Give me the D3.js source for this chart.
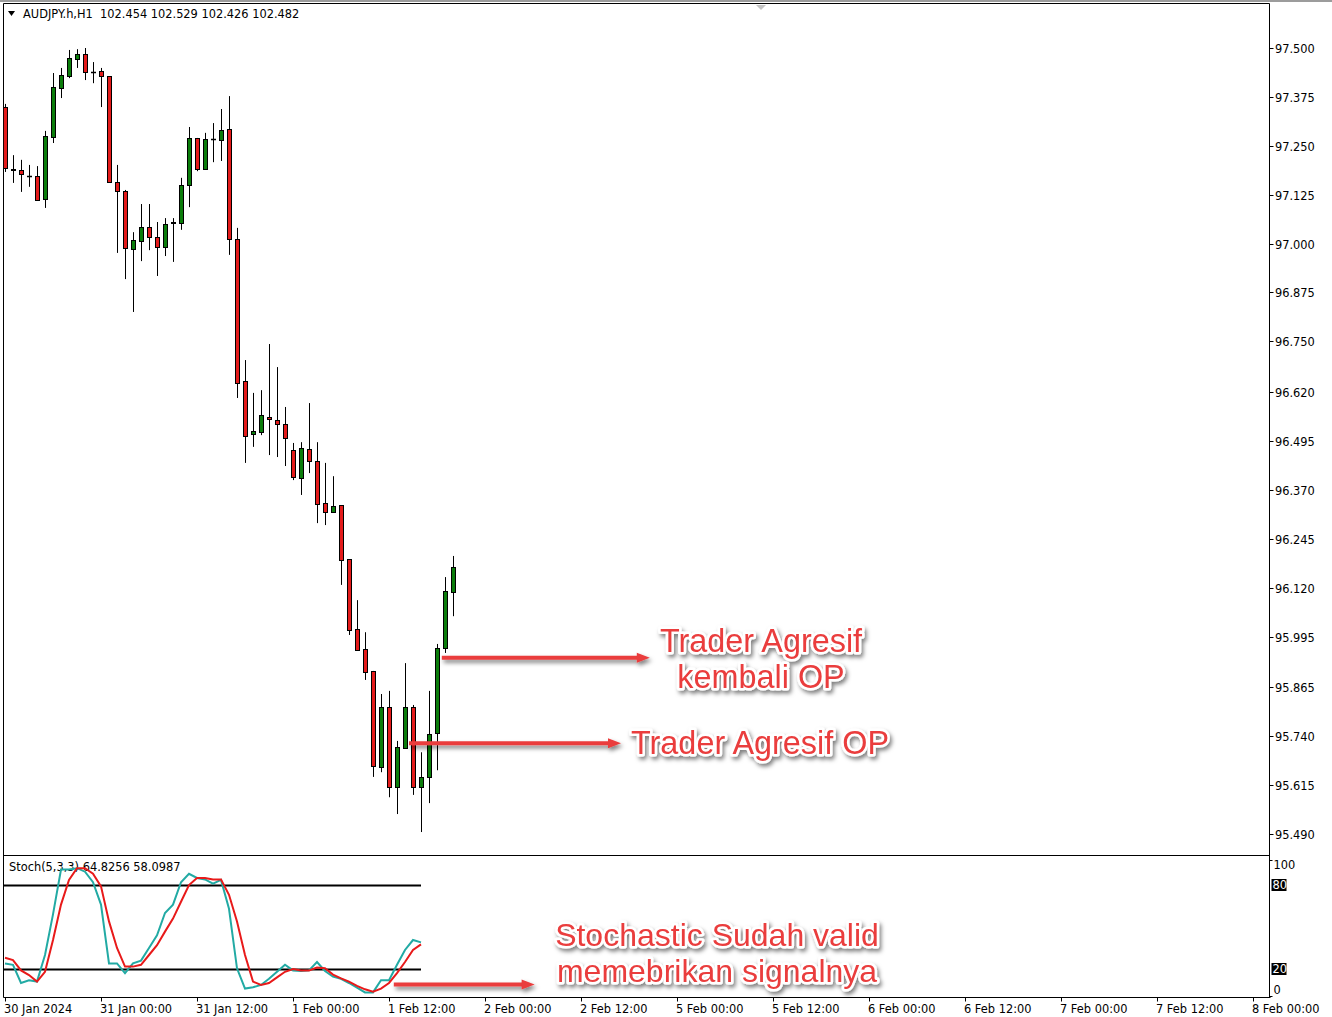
<!DOCTYPE html>
<html>
<head>
<meta charset="utf-8">
<script src="https://cdn.jsdelivr.net/npm/d3@7/dist/d3.min.js"></script>
<style>
  html, body { margin: 0; padding: 0; background: #ffffff; }
  svg { display: block; }
</style>
</head>
<body>
<svg id="chart" width="1332" height="1017"></svg>
<script>
// ---------------- DATA ----------------
const symbolTitle = "AUDJPY.h,H1  102.454 102.529 102.426 102.482";
const stochTitle = "Stoch(5,3,3) 64.8256 58.0987";

const openP = [97.349, 97.188, 97.188, 97.173, 97.173, 97.114, 97.272, 97.398, 97.428, 97.472, 97.485, 97.439, 97.441, 97.428, 97.157, 97.134, 96.986, 97.006, 97.042, 97.017, 96.991, 97.052, 97.052, 97.150, 97.270, 97.191, 97.267, 97.265, 97.293, 97.012, 96.648, 96.513, 96.518, 96.556, 96.549, 96.538, 96.472, 96.400, 96.474, 96.444, 96.336, 96.313, 96.331, 96.193, 96.014, 95.963, 95.907, 95.661, 95.815, 95.610, 95.710, 95.815, 95.610, 95.636, 95.748, 95.965, 96.109];
const highP = [97.357, 97.226, 97.214, 97.201, 97.198, 97.288, 97.436, 97.449, 97.495, 97.497, 97.500, 97.464, 97.449, 97.428, 97.201, 97.137, 97.029, 97.101, 97.101, 97.055, 97.065, 97.065, 97.168, 97.298, 97.270, 97.283, 97.308, 97.344, 97.377, 97.040, 96.702, 96.618, 96.625, 96.743, 96.684, 96.582, 96.490, 96.492, 96.592, 96.492, 96.439, 96.405, 96.331, 96.193, 96.088, 96.006, 95.907, 95.848, 95.856, 95.728, 95.927, 95.820, 95.699, 95.856, 95.976, 96.147, 96.201];
const lowP = [97.183, 97.155, 97.132, 97.145, 97.109, 97.091, 97.257, 97.372, 97.423, 97.449, 97.418, 97.410, 97.349, 97.157, 96.976, 96.909, 96.825, 96.955, 96.983, 96.917, 96.968, 96.953, 97.035, 97.093, 97.185, 97.191, 97.208, 97.211, 96.971, 96.605, 96.439, 96.480, 96.510, 96.459, 96.454, 96.431, 96.395, 96.357, 96.413, 96.285, 96.280, 96.311, 96.127, 95.999, 95.958, 95.884, 95.636, 95.648, 95.584, 95.541, 95.710, 95.590, 95.495, 95.569, 95.653, 95.953, 96.047];
const closeP = [97.193, 97.191, 97.178, 97.173, 97.111, 97.275, 97.400, 97.431, 97.474, 97.485, 97.439, 97.439, 97.428, 97.157, 97.134, 96.988, 97.009, 97.042, 97.017, 96.991, 97.050, 97.055, 97.150, 97.270, 97.191, 97.267, 97.267, 97.290, 97.012, 96.643, 96.508, 96.520, 96.561, 96.551, 96.538, 96.503, 96.403, 96.477, 96.444, 96.334, 96.313, 96.329, 96.191, 96.011, 95.960, 95.904, 95.664, 95.815, 95.610, 95.712, 95.815, 95.610, 95.636, 95.746, 95.965, 96.111, 96.173];

// Stochastic %K (main, teal) and %D (signal, red)
const stochK = [24, 23, 10, 12, 11, 30, 59, 91, 91, 92, 89.5, 82, 66, 24, 24, 17, 24, 26, 35, 44, 60, 66, 82, 88, 85, 84, 81, 83.6, 63, 20.5, 6, 7, 8.6, 13, 18, 23, 19, 18.6, 19, 25, 18.6, 14.5, 13, 10, 6.7, 3.3, 3.3, 12, 12, 23, 33.6, 40.7, 39];
const stochD = [28, 26.4, 19, 15.7, 11, 18, 40.7, 66, 83.6, 92, 92, 88, 79, 54, 35, 21.7, 21.7, 23, 30, 37, 46.7, 56, 68, 80, 85, 85, 84, 84, 73, 54, 30, 11, 8.6, 10, 14, 18, 20, 19, 19, 21, 20.5, 16, 13.3, 11, 8, 5.5, 3.8, 6, 10, 17, 25, 33.6, 37.6];
const stochLevels = [80, 20];

const priceTickLabels = ["97.500", "97.375", "97.250", "97.125", "97.000", "96.875", "96.750", "96.620", "96.495", "96.370", "96.245", "96.120", "95.995", "95.865", "95.740", "95.615", "95.490"];
const stochTickLabels = ["100", "80", "20", "0"];
const timeTickLabels = ["30 Jan 2024", "31 Jan 00:00", "31 Jan 12:00", "1 Feb 00:00", "1 Feb 12:00", "2 Feb 00:00", "2 Feb 12:00", "5 Feb 00:00", "5 Feb 12:00", "6 Feb 00:00", "6 Feb 12:00", "7 Feb 00:00", "7 Feb 12:00", "8 Feb 00:00"];
const barsPerTimeTick = 12;

const annotations = [
  { lines: ["Trader Agresif", "kembali OP"], barFrom: 54.6, barTo: 80.6, price: 95.941 },
  { lines: ["Trader Agresif OP"], barFrom: 50.5, barTo: 77, price: 95.722 }
];
const stochAnnotation = { lines: ["Stochastic Sudah valid", "memebrikan signalnya"], barFrom: 48.6, barTo: 66.2, value: 9 };

(function draw() {
// ---------------- LAYOUT ----------------
const W = 1332;
const pL = 3.5, pR = 1269.5, pT = 3.5, mainBottom = 855.5, stochTop = 857, stochBottom = 997.5;
const fontAxis = "'DejaVu Sans', Verdana, sans-serif";
const fs = 11.4;
const bull = "#0b7d0b", bear = "#e41b1b", teal = "#22aaa4", sigRed = "#e81a1a";
const annotRed = "#ea3c3c";

const svg = d3.select("#chart");

const defs = svg.append("defs");
const f = defs.append("filter").attr("id", "shadow").attr("x", "-10%").attr("y", "-40%").attr("width", "130%").attr("height", "200%");
f.append("feDropShadow").attr("dx", 2).attr("dy", 3).attr("stdDeviation", 2).attr("flood-color", "#000").attr("flood-opacity", 0.5);
defs.append("clipPath").attr("id", "clipMain").append("rect").attr("x", pL).attr("y", pT).attr("width", pR - pL).attr("height", mainBottom - pT);
defs.append("clipPath").attr("id", "clipStoch").append("rect").attr("x", pL).attr("y", stochTop).attr("width", pR - pL).attr("height", stochBottom - stochTop);

// Scales
const x = d3.scaleLinear().domain([0, 156]).range([5, 1253]);
const y = d3.scaleLinear().domain([95.49, 97.5]).range([834, 48]);
const ys = d3.scaleLinear().domain([0, 100]).range([997, 857]);
const px = i => Math.round(x(i)) + 0.5;

// Frame
svg.append("rect").attr("x", 0).attr("y", 0).attr("width", W).attr("height", 2).attr("fill", "#9c9c9c");
const frame = svg.append("g").attr("stroke", "#000").attr("stroke-width", 1).attr("fill", "none");
frame.append("line").attr("x1", pL).attr("x2", pR).attr("y1", pT).attr("y2", pT);
frame.append("line").attr("x1", pL).attr("x2", pL).attr("y1", pT).attr("y2", stochBottom);
frame.append("line").attr("x1", pR).attr("x2", pR).attr("y1", pT).attr("y2", stochBottom);
frame.append("line").attr("x1", pL).attr("x2", pR).attr("y1", mainBottom).attr("y2", mainBottom);
frame.append("line").attr("x1", pL).attr("x2", pR + 1).attr("y1", stochBottom).attr("y2", stochBottom);

// chart shift marker
svg.append("path").attr("d", "M756,5 L766,5 L761,10 Z").attr("fill", "#c4c4c4");

// Header
svg.append("path").attr("d", "M8,11 L15,11 L11.5,16 Z").attr("fill", "#000");
svg.append("text").attr("x", 23).attr("y", 18).attr("font-family", fontAxis).attr("font-size", fs).attr("fill", "#000").attr("xml:space", "preserve").text(symbolTitle);

// Price axis
const pa = svg.append("g");
priceTickLabels.forEach(lbl => {
  const yy = Math.round(y(+lbl)) + 0.5;
  pa.append("line").attr("x1", pR).attr("x2", pR + 4).attr("y1", yy).attr("y2", yy).attr("stroke", "#000");
  pa.append("text").attr("x", pR + 5.5).attr("y", yy + 4).attr("font-family", fontAxis).attr("font-size", fs).attr("fill", "#000").text(lbl);
});

// Candles
const idx = d3.range(openP.length);
const cg = svg.append("g").attr("clip-path", "url(#clipMain)");
cg.selectAll("line.wick").data(idx).join("line").attr("class", "wick")
  .attr("x1", i => px(i)).attr("x2", i => px(i))
  .attr("y1", i => y(highP[i])).attr("y2", i => y(lowP[i]))
  .attr("stroke", "#000").attr("stroke-width", 1);
cg.selectAll("rect.body").data(idx.filter(i => Math.abs(openP[i] - closeP[i]) > 0.0015)).join("rect").attr("class", "body")
  .attr("x", i => px(i) - 2).attr("width", 4)
  .attr("y", i => Math.round(y(Math.max(openP[i], closeP[i]))) + 0.5)
  .attr("height", i => Math.max(1, Math.round(y(Math.min(openP[i], closeP[i]))) - Math.round(y(Math.max(openP[i], closeP[i])))))
  .attr("fill", i => closeP[i] >= openP[i] ? bull : bear)
  .attr("stroke", "#000").attr("stroke-width", 1);
cg.selectAll("line.doji").data(idx.filter(i => Math.abs(openP[i] - closeP[i]) <= 0.0015)).join("line").attr("class", "doji")
  .attr("x1", i => px(i) - 2.5).attr("x2", i => px(i) + 2.5)
  .attr("y1", i => Math.round(y(openP[i])) + 0.5).attr("y2", i => Math.round(y(openP[i])) + 0.5)
  .attr("stroke", "#000").attr("stroke-width", 1.5);

// Stochastic panel
svg.append("text").attr("x", 9).attr("y", 871).attr("font-family", fontAxis).attr("font-size", fs).attr("fill", "#000").text(stochTitle);
const sg = svg.append("g").attr("clip-path", "url(#clipStoch)");
stochLevels.forEach(v => {
  sg.append("line").attr("x1", x(-0.3)).attr("x2", x(stochK.length - 1)).attr("y1", Math.round(ys(v)) + 0.5).attr("y2", Math.round(ys(v)) + 0.5)
    .attr("stroke", "#000").attr("stroke-width", 2);
});
const sline = d3.line().x((d, i) => x(i)).y(d => ys(d));
sg.append("path").datum(stochK).attr("d", sline).attr("fill", "none").attr("stroke", teal).attr("stroke-width", 2);
sg.append("path").datum(stochD).attr("d", sline).attr("fill", "none").attr("stroke", sigRed).attr("stroke-width", 2);

// Stoch axis labels
stochTickLabels.forEach(lbl => {
  const v = +lbl;
  const yy = ys(v);
  if (v === 80 || v === 20) {
    svg.append("rect").attr("x", pR + 2).attr("y", yy - 6).attr("width", 15).attr("height", 12).attr("fill", "#000");
    svg.append("text").attr("x", pR + 3).attr("y", yy + 4).attr("font-family", fontAxis).attr("font-size", fs).attr("fill", "#fff").text(lbl);
  } else {
    const ty = v === 100 ? yy + 12 : yy - 3;
    const ly = v === 100 ? yy + 3.5 : yy - 0.5;
    svg.append("line").attr("x1", pR).attr("x2", pR + 3).attr("y1", ly).attr("y2", ly).attr("stroke", "#000");
    svg.append("text").attr("x", pR + 4).attr("y", ty).attr("font-family", fontAxis).attr("font-size", fs).attr("fill", "#000").text(lbl);
  }
});

// Time axis
const ta = svg.append("g");
timeTickLabels.forEach((lbl, k) => {
  const xx = px(k * barsPerTimeTick);
  ta.append("line").attr("x1", xx).attr("x2", xx).attr("y1", stochBottom).attr("y2", stochBottom + 4).attr("stroke", "#000");
  ta.append("text").attr("x", xx - 1.5).attr("y", 1013).attr("font-family", fontAxis).attr("font-size", fs).attr("fill", "#000").text(lbl);
});

// Annotations
function arrow(x1, x2, yy) {
  const g = svg.append("g").attr("filter", "url(#shadow)");
  g.append("line").attr("x1", x1).attr("x2", x2 - 10).attr("y1", yy).attr("y2", yy).attr("stroke", annotRed).attr("stroke-width", 4);
  g.append("path").attr("d", `M${x2 - 13},${yy - 5} L${x2},${yy} L${x2 - 13},${yy + 5} Z`).attr("fill", annotRed);
}
function label(lines, cx, baseline, gap, size) {
  const g = svg.append("g").attr("filter", "url(#shadow)");
  lines.forEach((t, k) => {
    g.append("text").attr("x", cx).attr("y", baseline + k * gap).attr("text-anchor", "middle")
      .attr("font-family", "'Liberation Sans', Arial, sans-serif").attr("font-size", size)
      .attr("fill", annotRed).attr("stroke", "#fff").attr("stroke-width", 5).attr("stroke-linejoin", "round")
      .attr("paint-order", "stroke").text(t);
  });
}
const a1 = annotations[0];
arrow(x(a1.barFrom), x(a1.barTo), y(a1.price));
label(a1.lines, 761, 652, 36, 32.4);
const a2 = annotations[1];
arrow(x(a2.barFrom), x(a2.barTo), y(a2.price));
label(a2.lines, 760, 754, 36, 32.4);
arrow(x(stochAnnotation.barFrom), x(stochAnnotation.barTo), ys(stochAnnotation.value));
label(stochAnnotation.lines, 717, 946, 36, 32);
})();
</script>
</body>
</html>
